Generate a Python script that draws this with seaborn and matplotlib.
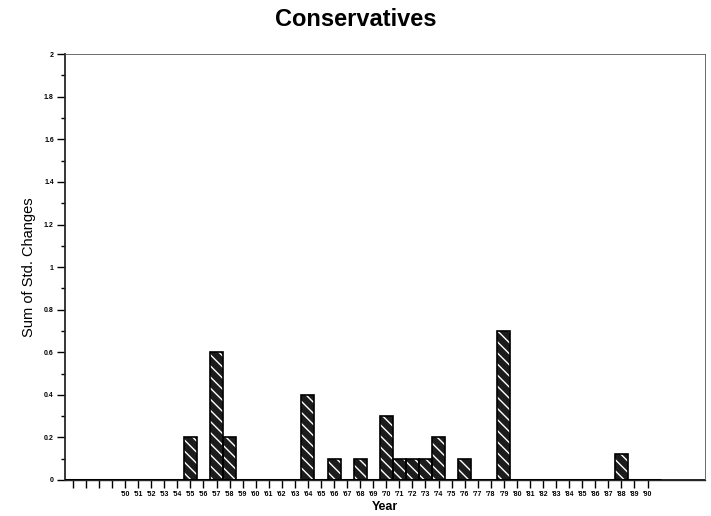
import matplotlib.pyplot as plt
import numpy as np
import pandas as pd
import seaborn as sns
from matplotlib.ticker import MultipleLocator

years = list(range(1946, 1995))
bar_years = [1955, 1957, 1958, 1964, 1966, 1968, 1970, 1971, 1972, 1973, 1974, 1976, 1979, 1988]
bar_values = [0.2, 0.6, 0.2, 0.4, 0.1, 0.1, 0.3, 0.1, 0.1, 0.1, 0.2, 0.1, 0.7, 0.12]
y_ticks = [0, 0.2, 0.4, 0.6, 0.8, 1.0, 1.2, 1.4, 1.6, 1.8, 2.0]
y_tick_labels = ["0", "0.2", "0.4", "0.6", "0.8", "1", "1.2", "1.4", "1.6", "1.8", "2"]

values = dict(zip(bar_years, bar_values))
df = pd.DataFrame({"year": years, "value": [values.get(y, 0.0) for y in years]})

sns.set_style("ticks")
plt.rcParams["font.family"] = ["Liberation Sans", "DejaVu Sans"]
plt.rcParams["hatch.linewidth"] = 1.0
for k in ["text.color", "axes.labelcolor", "xtick.color", "ytick.color"]:
    plt.rcParams[k] = "black"

fig = plt.figure(figsize=(7.11, 5.16), dpi=100)
ax = fig.add_axes([0.0914, 0.0698, 0.9002, 0.8252])

# filled bars with white diagonal hatching
sns.barplot(data=df, x="year", y="value", order=years, width=1.0, color="#1c1c1c",
            edgecolor="white", linewidth=0, hatch="\\\\\\", ax=ax)
# black outline on top
sns.barplot(data=df, x="year", y="value", order=years, width=1.0, fill=False,
            edgecolor="black", linewidth=1.2, ax=ax)

ax.axhline(0, xmin=0, xmax=0.93, color="black", lw=2.2, zorder=5)

ax.set_xlim(-0.6, 48.4)
ax.set_ylim(0, 2.0)

ax.set_xticks(range(0, 45))
ax.set_xticklabels([("'" + str(y)[2:]) if y >= 1950 else "" for y in years[:45]],
                   fontsize=5, fontweight="bold")
ax.set_yticks(y_ticks)
ax.set_yticklabels(y_tick_labels, fontsize=5, fontweight="bold")
ax.yaxis.set_minor_locator(MultipleLocator(0.1))
ax.tick_params(axis="both", which="major", length=6, width=1, direction="out", pad=2)
ax.tick_params(axis="y", which="minor", length=3, width=1, direction="out")

for side in ["top", "right"]:
    ax.spines[side].set_linewidth(0.6)
    ax.spines[side].set_color("#555555")
ax.spines["left"].set_linewidth(1.3)
ax.spines["bottom"].set_linewidth(1.0)

ax.set_xlabel("Year", fontsize=9, fontweight="bold", labelpad=2)
ax.set_ylabel("Sum of Std. Changes", fontsize=10.5, labelpad=6)
fig.suptitle("Conservatives", fontsize=17, fontweight="bold", y=0.985)

fig.savefig("out.png", dpi=100)
